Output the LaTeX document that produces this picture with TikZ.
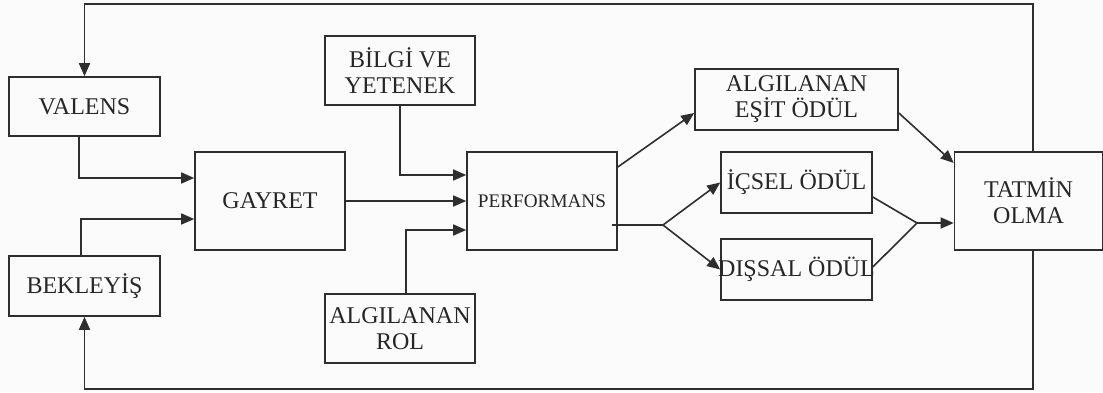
\documentclass[tikz,border=0pt]{standalone}
\usepackage{fontspec}
\setmainfont{Liberation Serif}
\usetikzlibrary{arrows.meta}
\definecolor{ln}{HTML}{2E2E2E}
\definecolor{bg}{HTML}{FBFBFB}
\begin{document}
\begin{tikzpicture}[x=0.5pt,y=-0.5pt,
  box/.style={draw=ln, line width=0.8pt, inner sep=0pt, align=center,
    font=\fontsize{12}{13}\selectfont, text=black!85},
  con/.style={draw=ln, line width=0.8pt},
  arr/.style={con, -{Triangle[length=6.5pt,width=5.5pt]}}]
\fill[bg] (0,0) rectangle (1103,392);
\useasboundingbox (0,0) rectangle (1103,392);
% boxes
\node[box, minimum width=75.5pt, minimum height=29.5pt] (val) at (84.5,106.5) {VALENS};
\node[box, minimum width=75.5pt, minimum height=30pt] (bek) at (84.5,286) {BEKLEYİŞ};
\node[box, minimum width=75pt, minimum height=49pt] (gay) at (270,201) {GAYRET};
\node[box, minimum width=75pt, minimum height=34.5pt] (bil) at (400,70.5) {BİLGİ VE\\YETENEK};
\node[box, minimum width=75pt, minimum height=34.5pt] (rol) at (400,328.5) {ALGILANAN\\ROL};
\node[box, minimum width=75pt, minimum height=49pt, font=\fontsize{9.6}{11}\selectfont] (perf) at (542,201) {PERFORMANS};
\node[box, minimum width=101.5pt, minimum height=30.5pt] (esit) at (796.5,99.5) {ALGILANAN\\EŞİT ÖDÜL};
\node[box, minimum width=75.5pt, minimum height=30.5pt] (ics) at (796.5,182.5) {İÇSEL ÖDÜL};
\node[box, minimum width=75.5pt, minimum height=30.5pt] (dis) at (796.5,269.5) {\makebox[0pt]{DIŞSAL ÖDÜL}};
\node[box, minimum width=74pt, minimum height=49pt] (tat) at (1028.5,201) {TATMİN\\OLMA};
% helper coordinates
\coordinate (tr) at (1033,4);
\coordinate (br) at (1033,389);
\coordinate (c1) at (79,178);
\coordinate (c2) at (81,219);
\coordinate (c3) at (400,175);
\coordinate (c4) at (406,230);
\coordinate (c5) at (617,167);
\coordinate (c6) at (695,113);
\coordinate (c7) at (612,225);
\coordinate (c8) at (663,225);
\coordinate (c9) at (954,163);
\coordinate (ci) at (872,197);
\coordinate (cd) at (873,267);
\coordinate (j) at (917,223);
% feedback loops
\draw[arr] (tat.north -| tr) -- (tr) -| (val.north);
\draw[arr] (tat.south -| br) -- (br) -| (bek.south);
% inputs to GAYRET
\draw[arr] (val.south -| c1) |- (gay.west |- c1);
\draw[arr] (bek.north -| c2) |- (gay.west |- c2);
% inputs to PERFORMANS
\draw[arr] (gay.east) -- (perf.west);
\draw[arr] (bil.south) |- (perf.west |- c3);
\draw[arr] (rol.north -| c4) |- (perf.west |- c4);
% outputs of PERFORMANS
\draw[arr] (perf.east |- c5) -- (esit.west |- c6);
\draw[con] (c7) -- (c8);
\draw[arr] (c8) -- (ics.west);
\draw[arr] (c8) -- (dis.west);
% to TATMIN
\draw[arr] (esit.east |- c6) -- (tat.west |- c9);
\draw[con] (ics.east |- ci) -- (j);
\draw[con] (dis.east |- cd) -- (j);
\draw[arr] (j) -- (tat.west |- j);
\end{tikzpicture}
\end{document}
